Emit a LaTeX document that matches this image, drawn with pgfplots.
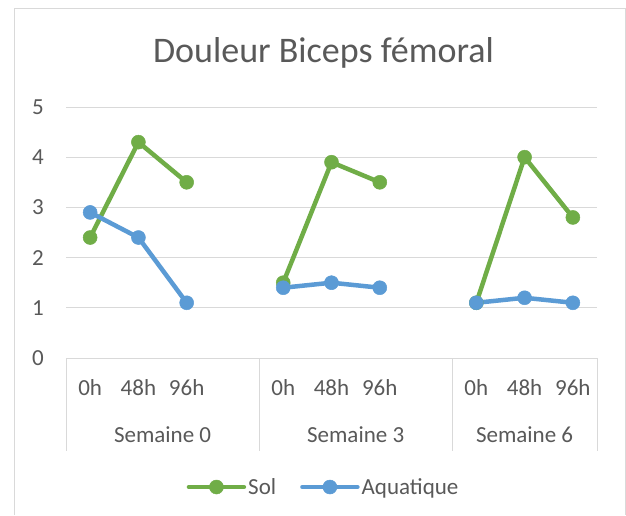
\documentclass[border=0pt]{standalone}
\usepackage{fontspec}
\setmainfont{Carlito}
\usepackage{pgfplots}
\pgfplotsset{compat=1.18}
\definecolor{sol}{HTML}{70AD47}
\definecolor{aqua}{HTML}{5B9BD5}
\definecolor{txt}{HTML}{595959}
\definecolor{gridc}{HTML}{D9D9D9}
\begin{document}
\begin{tikzpicture}
\useasboundingbox (0,0) rectangle (626pt,515pt);
\fill[white] (0,0) rectangle (626pt,515pt);
\draw[gridc, line width=1pt] (14pt,0) -- (14pt,506pt) -- (625pt,506pt) -- (625pt,0);
\node[anchor=base, text=txt, font=\fontsize{36}{40}\selectfont, inner sep=0pt] at (323.5pt,452pt) {Douleur Biceps fémoral};
\begin{axis}[
 at={(66pt,157pt)}, anchor=south west,
 scale only axis, width=531pt, height=251pt,
 xmin=-0.5, xmax=10.5, ymin=0, ymax=5,
 ytick={0,1,2,3,4,5},
 xtick={0,1,2,4,5,6,8,9,10},
 xticklabels={0h,48h,96h,0h,48h,96h,0h,48h,96h},
 axis line style={draw=none},
 major tick length=0pt,
 ymajorgrids, major grid style={gridc, line width=1pt},
 ticklabel style={text=txt, font=\fontsize{23}{26}\selectfont},
 /pgf/number format/assume math mode=true,
 xticklabel style={anchor=center, yshift=-30pt},
 yticklabel style={anchor=center, xshift=-28pt},
 clip=false,
 unbounded coords=jump,
 legend columns=2,
 legend style={at={(0.485,-0.514)}, anchor=center, draw=none, fill=none,
   font=\fontsize{23}{26}\selectfont, text=txt,
   /tikz/every even column/.append style={column sep=22pt},
   nodes={inner sep=2pt}},
 legend image code/.code={\draw[mark repeat=2,mark phase=2, line cap=round] plot coordinates {(0pt,0pt)(27.5pt,0pt)(55pt,0pt)};},
]
\draw[gridc, line width=1pt] (axis cs:-0.5,0) -- ++(0pt,-93pt);
\draw[gridc, line width=1pt] (axis cs:3.5,0) -- ++(0pt,-93pt);
\draw[gridc, line width=1pt] (axis cs:7.5,0) -- ++(0pt,-93pt);
\draw[gridc, line width=1pt] (axis cs:10.5,0) -- ++(0pt,-93pt);
\node[text=txt, font=\fontsize{23}{26}\selectfont] at (axis cs:1.5,0) [yshift=-77pt] {Semaine 0};
\node[text=txt, font=\fontsize{23}{26}\selectfont] at (axis cs:5.5,0) [yshift=-77pt] {Semaine 3};
\node[text=txt, font=\fontsize{23}{26}\selectfont] at (axis cs:9,0) [yshift=-77pt] {Semaine 6};
\addplot[sol, line width=4.5pt, line join=round, mark=*, mark size=7pt, mark options={solid, fill=sol, draw=sol, line width=0.5pt}]
 coordinates {(0,2.4)(1,4.3)(2,3.5)(3,nan)(4,1.5)(5,3.9)(6,3.5)(7,nan)(8,1.1)(9,4.0)(10,2.8)};
\addlegendentry{Sol}
\addplot[aqua, line width=4.5pt, line join=round, mark=*, mark size=7pt, mark options={solid, fill=aqua, draw=aqua, line width=0.5pt}]
 coordinates {(0,2.9)(1,2.4)(2,1.1)(3,nan)(4,1.4)(5,1.5)(6,1.4)(7,nan)(8,1.1)(9,1.2)(10,1.1)};
\addlegendentry{Aquatique}
\end{axis}
\end{tikzpicture}
\end{document}
